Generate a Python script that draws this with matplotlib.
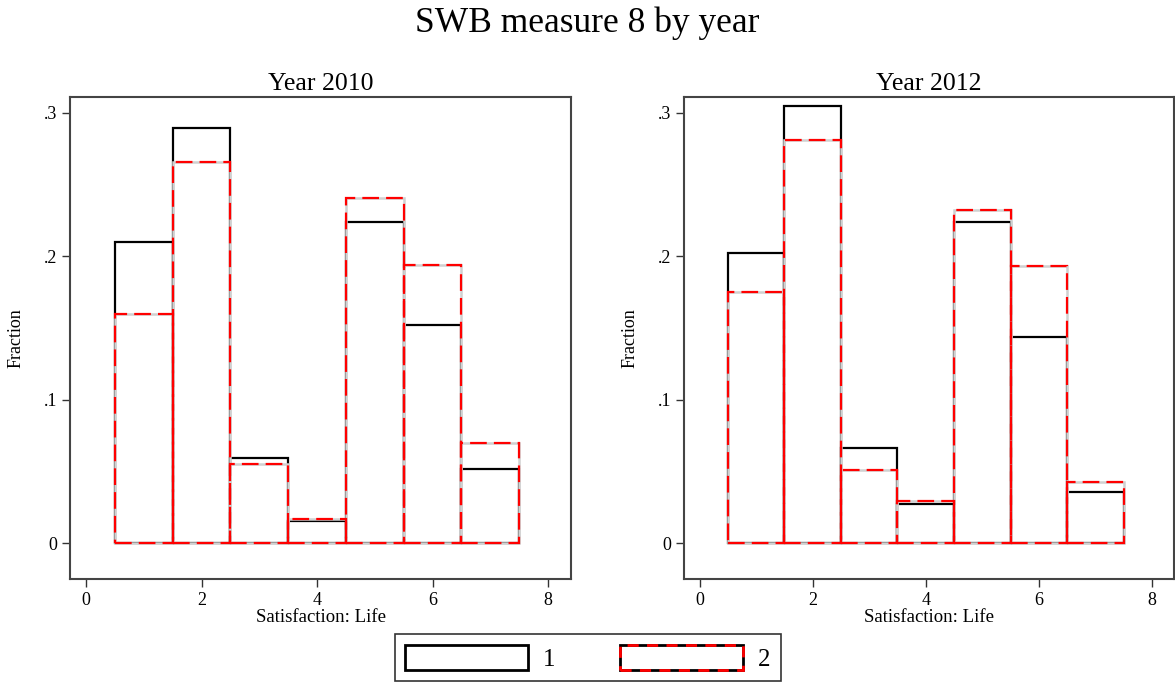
import matplotlib
matplotlib.use("Agg")
import matplotlib.pyplot as plt
from matplotlib.patches import Patch
import numpy as np

plt.rcParams['font.family'] = ['Liberation Serif', 'DejaVu Serif']

categories = [1, 2, 3, 4, 5, 6, 7]
years = ["Year 2010", "Year 2012"]
s1_2010 = [0.2098, 0.2895, 0.0594, 0.0154, 0.2238, 0.1524, 0.0517]
s2_2010 = [0.1600, 0.2657, 0.0552, 0.0168, 0.2406, 0.1937, 0.0699]
s1_2012 = [0.2021, 0.3049, 0.0664, 0.0273, 0.2238, 0.1434, 0.0357]
s2_2012 = [0.1748, 0.2811, 0.0510, 0.0294, 0.2322, 0.1930, 0.0427]
series_labels = ["1", "2"]
yticks = [0, 0.1, 0.2, 0.3]
ytick_labels = ["0", ".1", ".2", ".3"]
xticks = [0, 2, 4, 6, 8]

fig = plt.figure(figsize=(11.75, 6.87), dpi=100)
fig.suptitle("SWB measure 8 by year", fontsize=25.5, y=0.99)

positions = [[0.0596, 0.157, 0.4264, 0.702], [0.582, 0.157, 0.4175, 0.702]]
data = [(s1_2010, s2_2010), (s1_2012, s2_2012)]

for pos, title, (s1, s2) in zip(positions, years, data):
    ax = fig.add_axes(pos)
    ax.bar(categories, s1, width=1.0, facecolor='none', edgecolor='black', linewidth=1.6, zorder=2)
    ax.bar(categories, s2, width=1.0, facecolor='none', edgecolor='#d0d0d0', linewidth=1.8, zorder=3)
    ax.bar(categories, s2, width=1.0, facecolor='none', edgecolor='red', linewidth=1.6,
           linestyle=(0, (7.5, 3.2)), zorder=4)
    ax.set_xlim(-0.28, 8.4)
    ax.set_ylim(-0.025, 0.311)
    ax.set_yticks(yticks)
    ax.set_yticklabels(ytick_labels)
    ax.set_xticks(xticks)
    ax.tick_params(axis='both', labelsize=13, length=6, width=1, color='#333333', pad=3)
    ax.set_xlabel("Satisfaction: Life", fontsize=13.5, labelpad=0)
    ax.set_ylabel("Fraction", fontsize=13, labelpad=14)
    ax.set_title(title, fontsize=18.5, pad=5)
    for sp in ax.spines.values():
        sp.set_color('#444444')
        sp.set_linewidth(1.5)

h1 = Patch(facecolor='white', edgecolor='black', linewidth=2)
h2a = Patch(facecolor='white', edgecolor='black', linewidth=2)
h2b = Patch(facecolor='none', edgecolor='red', linewidth=2, linestyle=(0, (4, 3)))
leg = fig.legend([h1, (h2a, h2b)], series_labels, loc='center', bbox_to_anchor=(0.5, 0.0425),
                 ncol=2, fontsize=18, frameon=True, fancybox=False, edgecolor='black',
                 handlelength=4.9, handleheight=1.2, columnspacing=2.6, handletextpad=0.6,
                 borderpad=0.42, borderaxespad=0)
leg.get_frame().set_linewidth(1.2)

fig.savefig("out.png", dpi=100)
